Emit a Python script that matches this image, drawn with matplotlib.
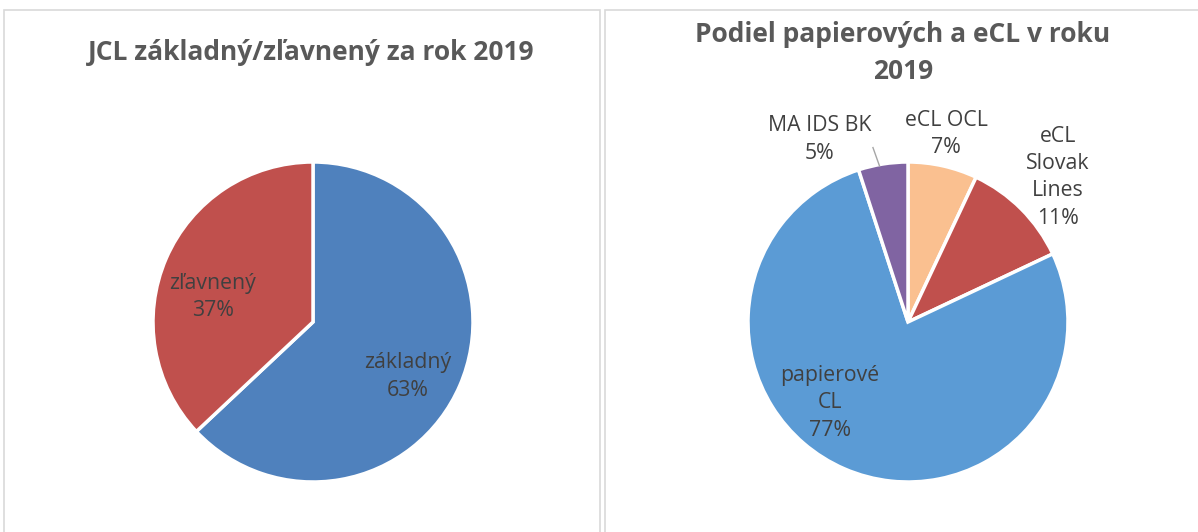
import matplotlib.pyplot as plt
from matplotlib.patches import Rectangle

# ── Data ──────────────────────────────────────────────────────────────────────
left_labels = ["základný", "zľavnený"]
left_values = [63, 37]
left_colors = ["#4F81BD", "#C0504D"]

right_labels = ["eCL OCL", "eCL\nSlovak\nLines", "papierové\nCL", "MA IDS BK"]
right_values = [7, 11, 77, 5]
right_colors = ["#FAC090", "#C0504D", "#5B9BD5", "#8064A2"]

W, H = 1198, 532
FONT = "Open Sans"
LABEL_COLOR = "#404040"
TITLE_COLOR = "#595959"

plt.rcParams["font.family"] = [FONT, "DejaVu Sans"]

fig = plt.figure(figsize=(W / 100, H / 100), dpi=100)
fig.patch.set_facecolor("white")

# panel borders (pixel boxes)
for x0, x1 in [(4, 600), (605, 1205)]:
    fig.patches.append(Rectangle((x0 / W, -0.1), (x1 - x0) / W, (H - 10) / H + 0.1,
                                 transform=fig.transFigure, fill=False,
                                 edgecolor="#D9D9D9", linewidth=1.2))


def pie_axes(cx, cy, r):
    ax = fig.add_axes([(cx - r) / W, (H - cy - r) / H, 2 * r / W, 2 * r / H])
    ax.set_xlim(-1, 1)
    ax.set_ylim(-1, 1)
    ax.axis("off")
    return ax


def label(ax, text, pos, value):
    ax.text(pos[0], pos[1], f"{text}\n{value}%", ha="center", va="center",
            fontsize=15.3, color=LABEL_COLOR, linespacing=1.4)


# ── Left pie ──────────────────────────────────────────────────────────────────
axl = pie_axes(313, 322, 160)
axl.pie(left_values, colors=left_colors, startangle=90, counterclock=False,
        radius=1, wedgeprops=dict(edgecolor="white", linewidth=2.5))
axl.set_xlim(-1, 1)
axl.set_ylim(-1, 1)
left_pos = [(0.594, -0.34), (-0.625, 0.156)]
for t, v, p in zip(left_labels, left_values, left_pos):
    label(axl, t, p, v)
fig.text(311 / W, 1 - 52 / H, "JCL základný/zľavnený za rok 2019",
         ha="center", va="center", fontsize=19, fontweight="bold", color=TITLE_COLOR)

# ── Right pie ─────────────────────────────────────────────────────────────────
axr = pie_axes(908, 322, 160)
axr.pie(right_values, colors=right_colors, startangle=90, counterclock=False,
        radius=1, wedgeprops=dict(edgecolor="white", linewidth=2.5))
axr.set_xlim(-1, 1)
axr.set_ylim(-1, 1)
right_pos = [(0.2375, 1.175), (0.9375, 0.905), (-0.4875, -0.506), (-0.55, 1.14)]
for t, v, p in zip(right_labels, right_values, right_pos):
    label(axr, t, p, v)
axr.plot([-0.219, -0.178], [1.09, 0.975], color="#A6A6A6", linewidth=1,
         clip_on=False)
fig.text(903 / W, 1 - 53 / H, "Podiel papierových a eCL v roku\n2019",
         ha="center", va="center", fontsize=19, fontweight="bold",
         color=TITLE_COLOR, linespacing=1.45)

fig.savefig("out.png", dpi=100, facecolor="white")
